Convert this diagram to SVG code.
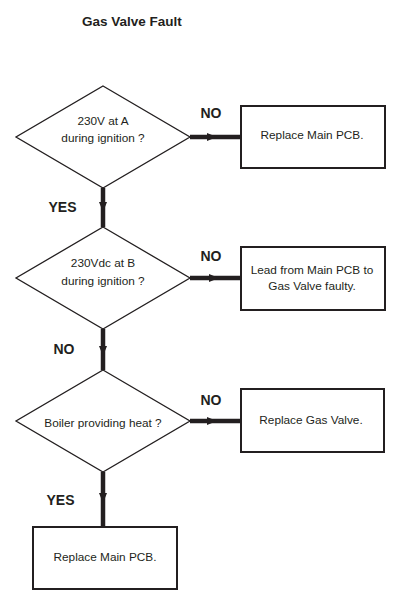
<svg xmlns="http://www.w3.org/2000/svg" width="404" height="602" viewBox="0 0 404 602">
<style>
.dia{fill:#fff;stroke:#231f20;stroke-width:1.3}
.box{fill:#fff;stroke:#231f20;stroke-width:2}
.t{font-family:"Liberation Sans",Arial,sans-serif;font-size:11.8px;fill:#231f20;text-anchor:middle}
.lb{font-family:"Liberation Sans",Arial,sans-serif;font-size:14px;font-weight:bold;fill:#231f20;text-anchor:middle}
.title{font-family:"Liberation Sans",Arial,sans-serif;font-size:13.5px;font-weight:bold;fill:#231f20}
.c{fill:none;stroke:#231f20;stroke-width:4.5;marker-mid:url(#ah)}
</style>
<defs>
<marker id="ah" viewBox="0 0 10 8" refX="10" refY="4" markerWidth="10" markerHeight="8" markerUnits="userSpaceOnUse" orient="auto">
<path d="M0,0 L10,4 L0,8 Z" fill="#231f20"/>
</marker>
</defs>
<rect width="404" height="602" fill="#fff"/>
<text class="title" x="82" y="26">Gas Valve Fault</text>
<g id="connectors">
<path class="c" d="M190,137 L217,137 L241,137"/>
<path class="c" d="M103,188 L103,212 L103,227"/>
<path class="c" d="M190,278 L219,278 L241,278"/>
<path class="c" d="M103,329 L103,356 L103,370"/>
<path class="c" d="M190,421 L217,421 L241,421"/>
<path class="c" d="M103,472 L103,503 L103,527"/>
<text class="lb" x="211" y="118">NO</text>
<text class="lb" x="62.5" y="212">YES</text>
<text class="lb" x="211" y="261">NO</text>
<text class="lb" x="64" y="354">NO</text>
<text class="lb" x="211" y="405">NO</text>
<text class="lb" x="60.5" y="505">YES</text>
</g>
<g id="d1">
<polygon class="dia" points="103,86 190,137 103,188 16,137"/>
<text class="t" x="103" y="125">230V at A</text>
<text class="t" x="103" y="142">during ignition ?</text>
</g>
<g id="b1">
<rect class="box" x="241" y="106" width="144" height="62"/>
<text class="t" x="312" y="139">Replace Main PCB.</text>
</g>
<g id="d2">
<polygon class="dia" points="103,227 190,278 103,329 16,278"/>
<text class="t" x="103" y="267">230Vdc at B</text>
<text class="t" x="103" y="285">during ignition ?</text>
</g>
<g id="b2">
<rect class="box" x="241" y="247" width="144" height="63"/>
<text class="t" x="312" y="274">Lead from Main PCB to</text>
<text class="t" x="312" y="290">Gas Valve faulty.</text>
</g>
<g id="d3">
<polygon class="dia" points="103,370 190,421 103,472 16,421"/>
<text class="t" x="103" y="427">Boiler providing heat ?</text>
</g>
<g id="b3">
<rect class="box" x="241" y="389" width="143" height="63"/>
<text class="t" x="311" y="424">Replace Gas Valve.</text>
</g>
<g id="b4">
<rect class="box" x="33" y="527" width="144" height="62"/>
<text class="t" x="105" y="561">Replace Main PCB.</text>
</g>
</svg>
